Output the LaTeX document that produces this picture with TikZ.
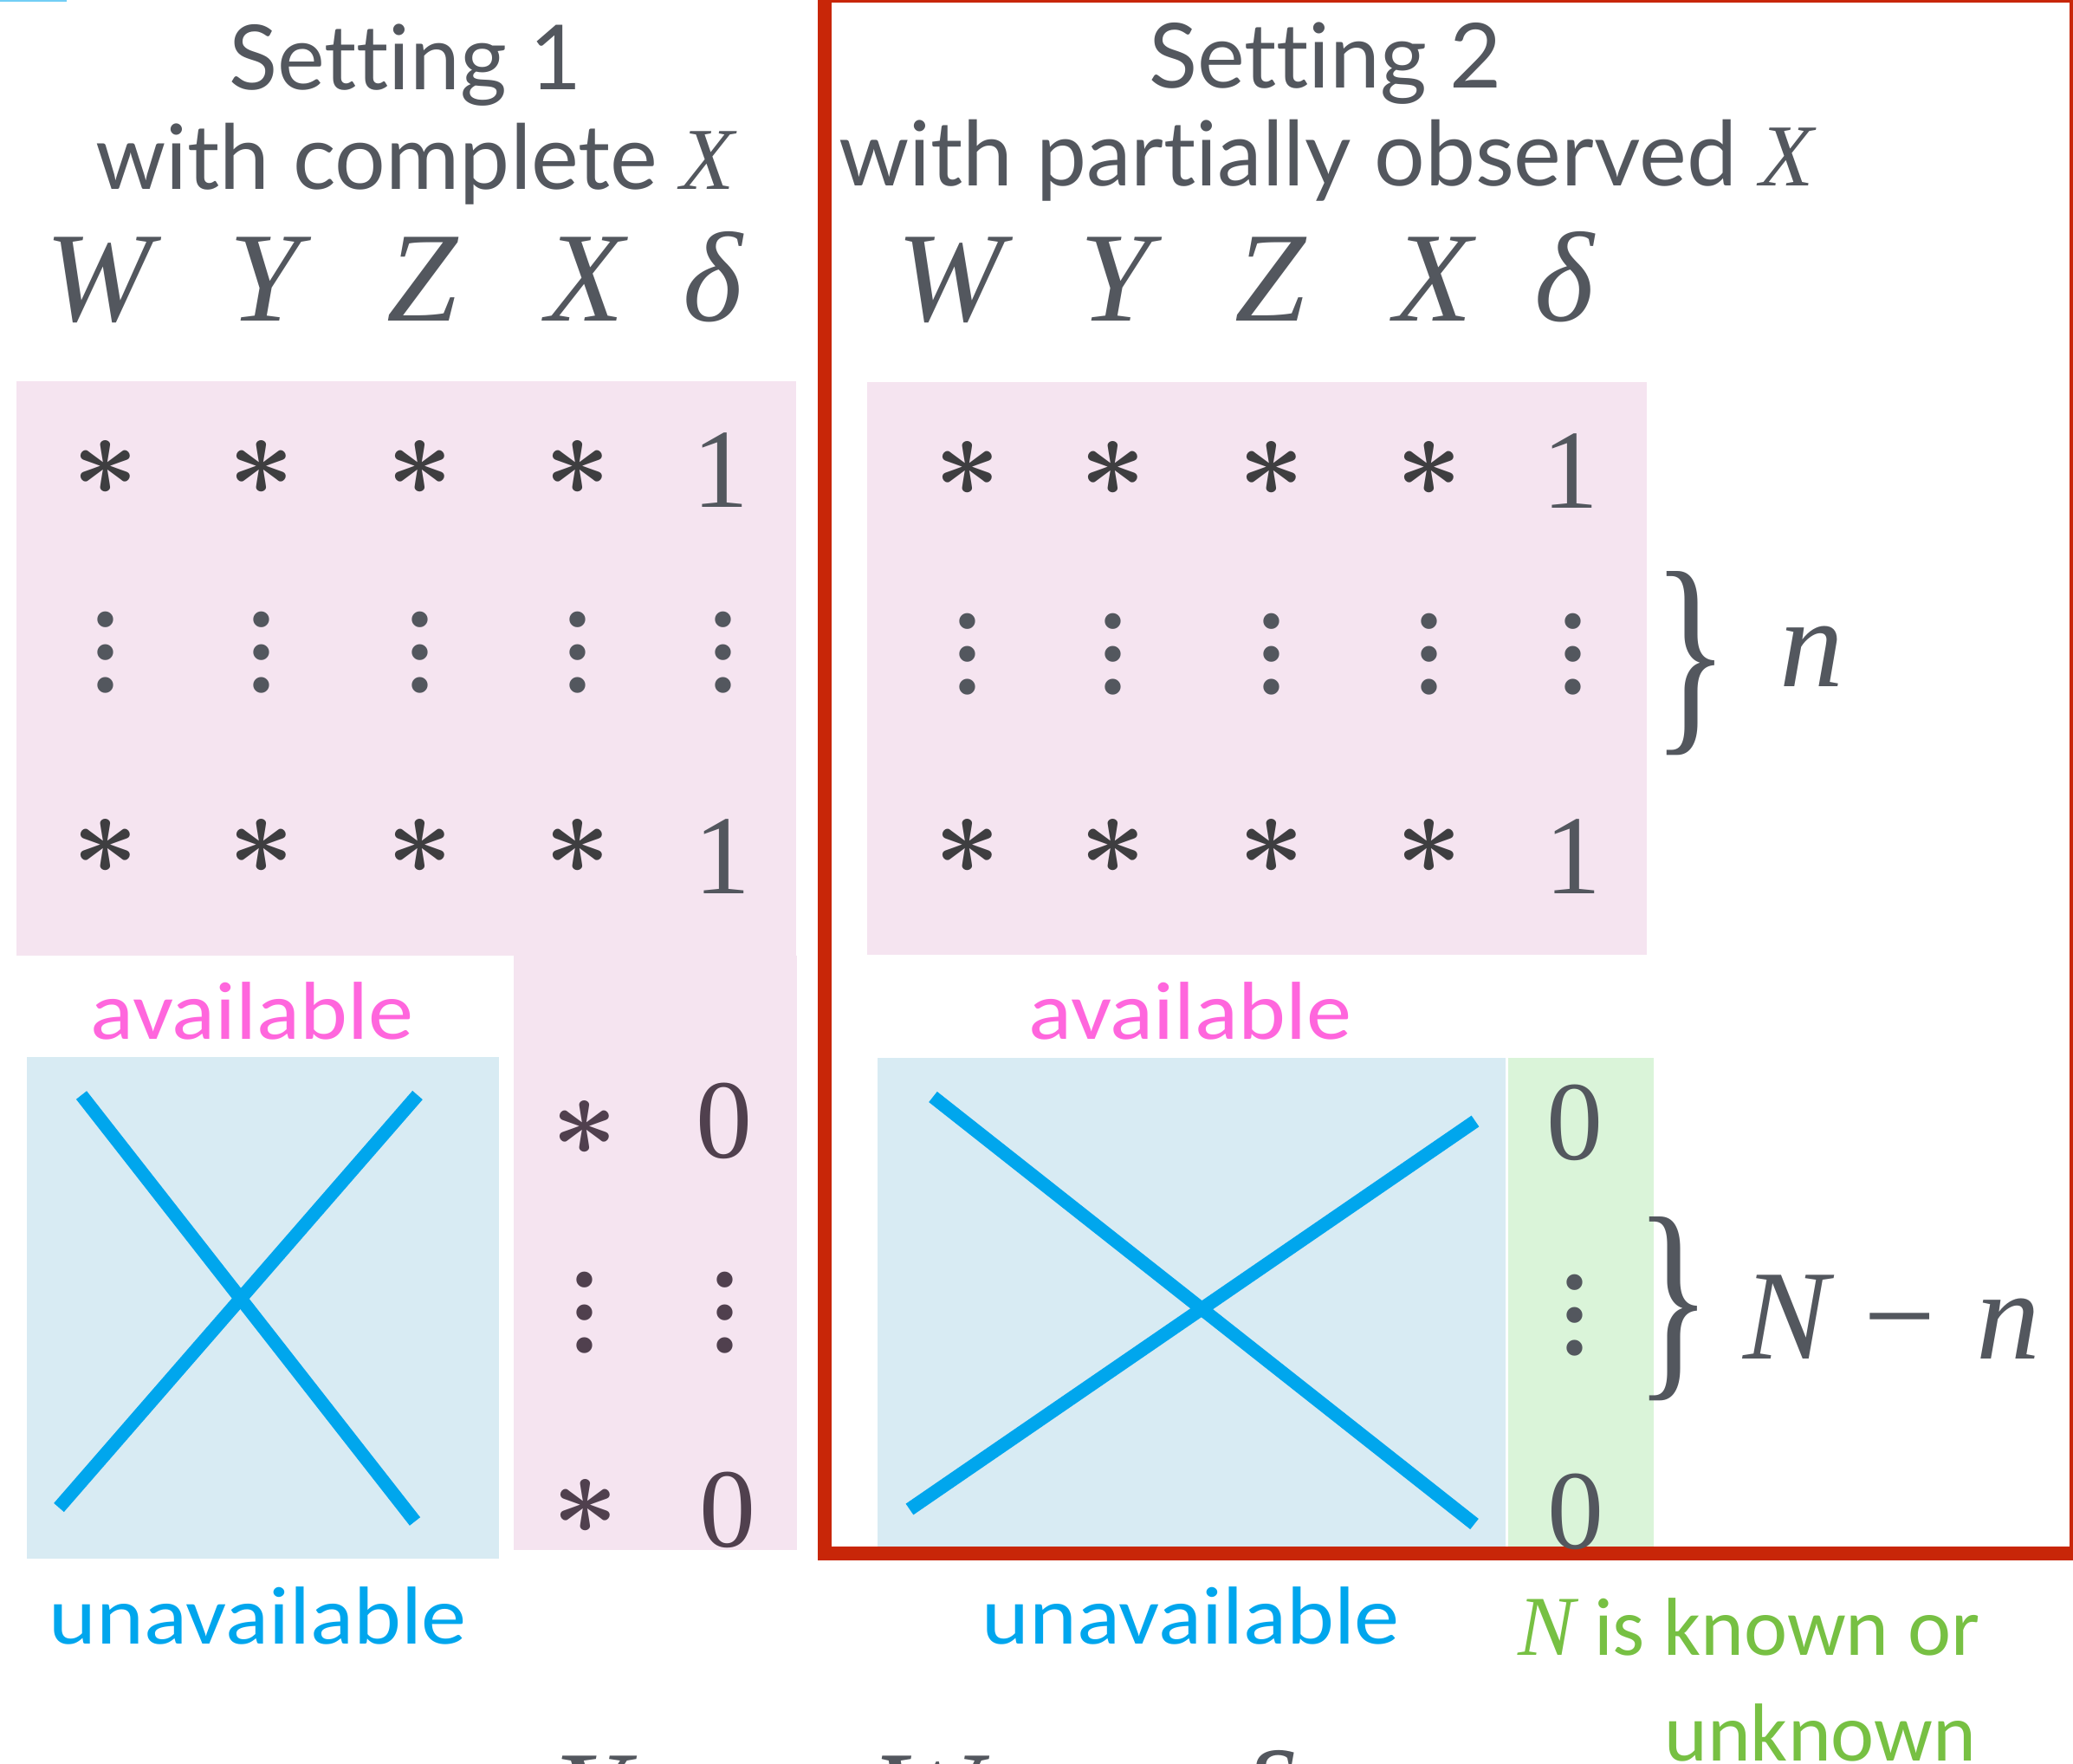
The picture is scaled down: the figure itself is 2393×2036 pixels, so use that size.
\RequirePackage{fix-cm}
\documentclass[tikz,border=0pt]{standalone}
\usepackage{fontspec}
\usepackage{graphicx}
\setmainfont{Liberation Serif}
\newfontfamily\titlefont{Lato}[Ligatures={NoCommon,NoContextual}]
\newfontfamily\labelfont{Carlito}
\definecolor{ink}{RGB}{83,87,94}
\definecolor{inkdark}{RGB}{62,62,64}
\definecolor{inkplum}{RGB}{80,64,78}
\definecolor{cellpink}{RGB}{245,228,240}
\definecolor{cellblue}{RGB}{216,235,243}
\definecolor{cellgreen}{RGB}{218,244,217}
\definecolor{crossblue}{RGB}{0,166,237}
\definecolor{availpink}{RGB}{255,102,221}
\definecolor{knowngreen}{RGB}{119,192,67}
\definecolor{framered}{RGB}{200,38,8}
\newcommand{\wide}[1]{\scalebox{1.1}[1]{#1}}
\newcommand{\coldots}{\rotatebox{90}{…}}

\begin{document}
\begin{tikzpicture}[
        x=0.1mm, y=-0.1mm,
        heading/.style={font=\titlefont\fontsize{29.5}{30}\selectfont, text=ink, anchor=base, inner sep=0pt},
        head/.style={font=\itshape\fontsize{42}{42}\selectfont, text=ink, anchor=base, inner sep=0pt},
        star/.style={font=\fontsize{38}{38}\selectfont\boldmath, text=inkdark, inner sep=0pt},
        digit/.style={font=\fontsize{37}{37}\selectfont, text=ink, anchor=base, inner sep=0pt},
        vdot/.style={font=\bfseries\fontsize{32}{32}\selectfont, text=ink, inner sep=0pt},
        tag/.style={font=\labelfont\fontsize{27}{27}\selectfont, anchor=base, inner sep=0pt},
        brace/.style={font=\fontsize{73}{73}\selectfont, text=ink, inner sep=0pt},
        xline/.style={crossblue, line width=4.4pt}
    ]
        \useasboundingbox (0,0) rectangle (2393,2036);
        \clip (0,0) rectangle (2393,2036);

        % shaded blocks
        \fill[crossblue!55] (0,0) rectangle (77,2.5);
        \fill[cellpink] (19,440) rectangle (919,1103);
        \fill[cellpink] (593,1103) rectangle (920,1789);
        \fill[cellblue] (31,1220) rectangle (576,1799);
        \fill[cellpink] (1001,441) rectangle (1901,1102);
        \fill[cellblue] (1013,1221) rectangle (1738,1785);
        \fill[cellgreen] (1741,1221) rectangle (1909,1785);

        % crossed out parts
        \draw[xline] (94,1264) -- (479,1756);
        \draw[xline] (482,1264) -- (68,1740);
        \draw[xline] (1077,1266) -- (1702,1759);
        \draw[xline] (1703,1294) -- (1050,1742);

        % frame of setting 2
        \draw[framered, line width=4.55pt] (952,-5) rectangle (2397,1793);

        % titles
        \node[heading] (title1) at (468,103) {Setting 1};
        \node[heading] (sub1) at (479,218)
            {with complete {\rmfamily\itshape\fontsize{29}{29}\selectfont X}};
        \node[heading] (title2) at (1530,101) {Setting 2};
        \node[heading] (sub2) at (1531,214)
            {with partially observed {\rmfamily\itshape\fontsize{29}{29}\selectfont X}};

        % column heads
        \node[head] (leftW) at (114,370) {W};
        \node[head] (leftY) at (306,370) {Y};
        \node[head] (leftZ) at (488,370) {Z};
        \node[head] (leftX) at (676,370) {X};
        \node[head] (leftD) at (823,370) {δ};
        \node[head] (rightW) at (1097,370) {W};
        \node[head] (rightY) at (1288,370) {Y};
        \node[head] (rightZ) at (1467,370) {Z};
        \node[head] (rightX) at (1655,370) {X};
        \node[head] (rightD) at (1806,370) {δ};

        % setting 1, observed rows
        \node[star] (lw1) at (122,540) {$\ast$};
        \node[star] (ly1) at (302,540) {$\ast$};
        \node[star] (lz1) at (485,540) {$\ast$};
        \node[star] (lx1) at (667,540) {$\ast$};
        \node[digit] (ld1) at (832,585) {1};
        \node[vdot] (lw2) at (122,753) {\coldots};
        \node[vdot] (ly2) at (302,753) {\coldots};
        \node[vdot] (lz2) at (485,753) {\coldots};
        \node[vdot] (lx2) at (667,753) {\coldots};
        \node[vdot] (ld2) at (835,753) {\coldots};
        \node[star] (lw3) at (122,977) {$\ast$};
        \node[star] (ly3) at (302,977) {$\ast$};
        \node[star] (lz3) at (485,977) {$\ast$};
        \node[star] (lx3) at (667,977) {$\ast$};
        \node[digit] (ld3) at (834,1031) {1};

        % setting 1, remaining rows
        \node[star, text=inkplum] (lx4) at (675,1302) {$\ast$};
        \node[digit, text=inkplum] (ld4) at (836,1336) {0};
        \node[vdot, text=inkplum] (lx5) at (675,1515) {\coldots};
        \node[vdot, text=inkplum] (ld5) at (837,1515) {\coldots};
        \node[star, text=inkplum] (lx6) at (676,1739) {$\ast$};
        \node[digit, text=inkplum] (ld6) at (840,1785) {0};

        % setting 2, observed rows
        \node[star] (rw1) at (1117,541) {$\ast$};
        \node[star] (ry1) at (1285,541) {$\ast$};
        \node[star] (rz1) at (1468,541) {$\ast$};
        \node[star] (rx1) at (1650,541) {$\ast$};
        \node[digit] (rd1) at (1813,586) {1};
        \node[vdot] (rw2) at (1117,755) {\coldots};
        \node[vdot] (ry2) at (1285,755) {\coldots};
        \node[vdot] (rz2) at (1468,755) {\coldots};
        \node[vdot] (rx2) at (1650,755) {\coldots};
        \node[vdot] (rd2) at (1816,755) {\coldots};
        \node[star] (rw3) at (1117,977) {$\ast$};
        \node[star] (ry3) at (1285,977) {$\ast$};
        \node[star] (rz3) at (1468,977) {$\ast$};
        \node[star] (rx3) at (1650,977) {$\ast$};
        \node[digit] (rd3) at (1816,1031) {1};

        % setting 2, remaining rows
        \node[digit] (rd4) at (1818,1338) {0};
        \node[vdot] (rd5) at (1818,1518) {\coldots};
        \node[digit] (rd6) at (1819,1787) {0};

        % row counts
        \node[brace] (braceobs) at (1952,766) {\scalebox{0.72}[1]{\}}};
        \node[head] (nobs) at (2091,792) {n};
        \node[brace] (bracemis) at (1932,1511) {\scalebox{0.72}[1]{\}}};
        \node[head] (nmis) at (2184,1568)
            {N\hspace{0.27em}{\upshape −}\hspace{0.32em}n};

        % labels
        \node[tag, text=availpink] (avail1) at (291,1199) {\wide{available}};
        \node[tag, text=availpink] (avail2) at (1374,1199) {\wide{available}};
        \node[tag, text=crossblue] (unavail1) at (298,1897) {\wide{unavailable}};
        \node[tag, text=crossblue] (unavail2) at (1375,1897) {\wide{unavailable}};
        \node[tag, text=knowngreen, anchor=base east] (known) at (2286,1910)
            {{\rmfamily\itshape\fontsize{28}{28}\selectfont N} is known or};
        \node[tag, text=knowngreen, anchor=base east] (unknown) at (2282,2032) {unknown};

        % heads of the next rows, cut off
        \node[head] (cutY) at (682,2123) {Y};
        \node[head] (cutW) at (1070,2123) {W};
        \node[head] (cutD) at (1458,2123) {δ};
    \end{tikzpicture}
\end{document}
